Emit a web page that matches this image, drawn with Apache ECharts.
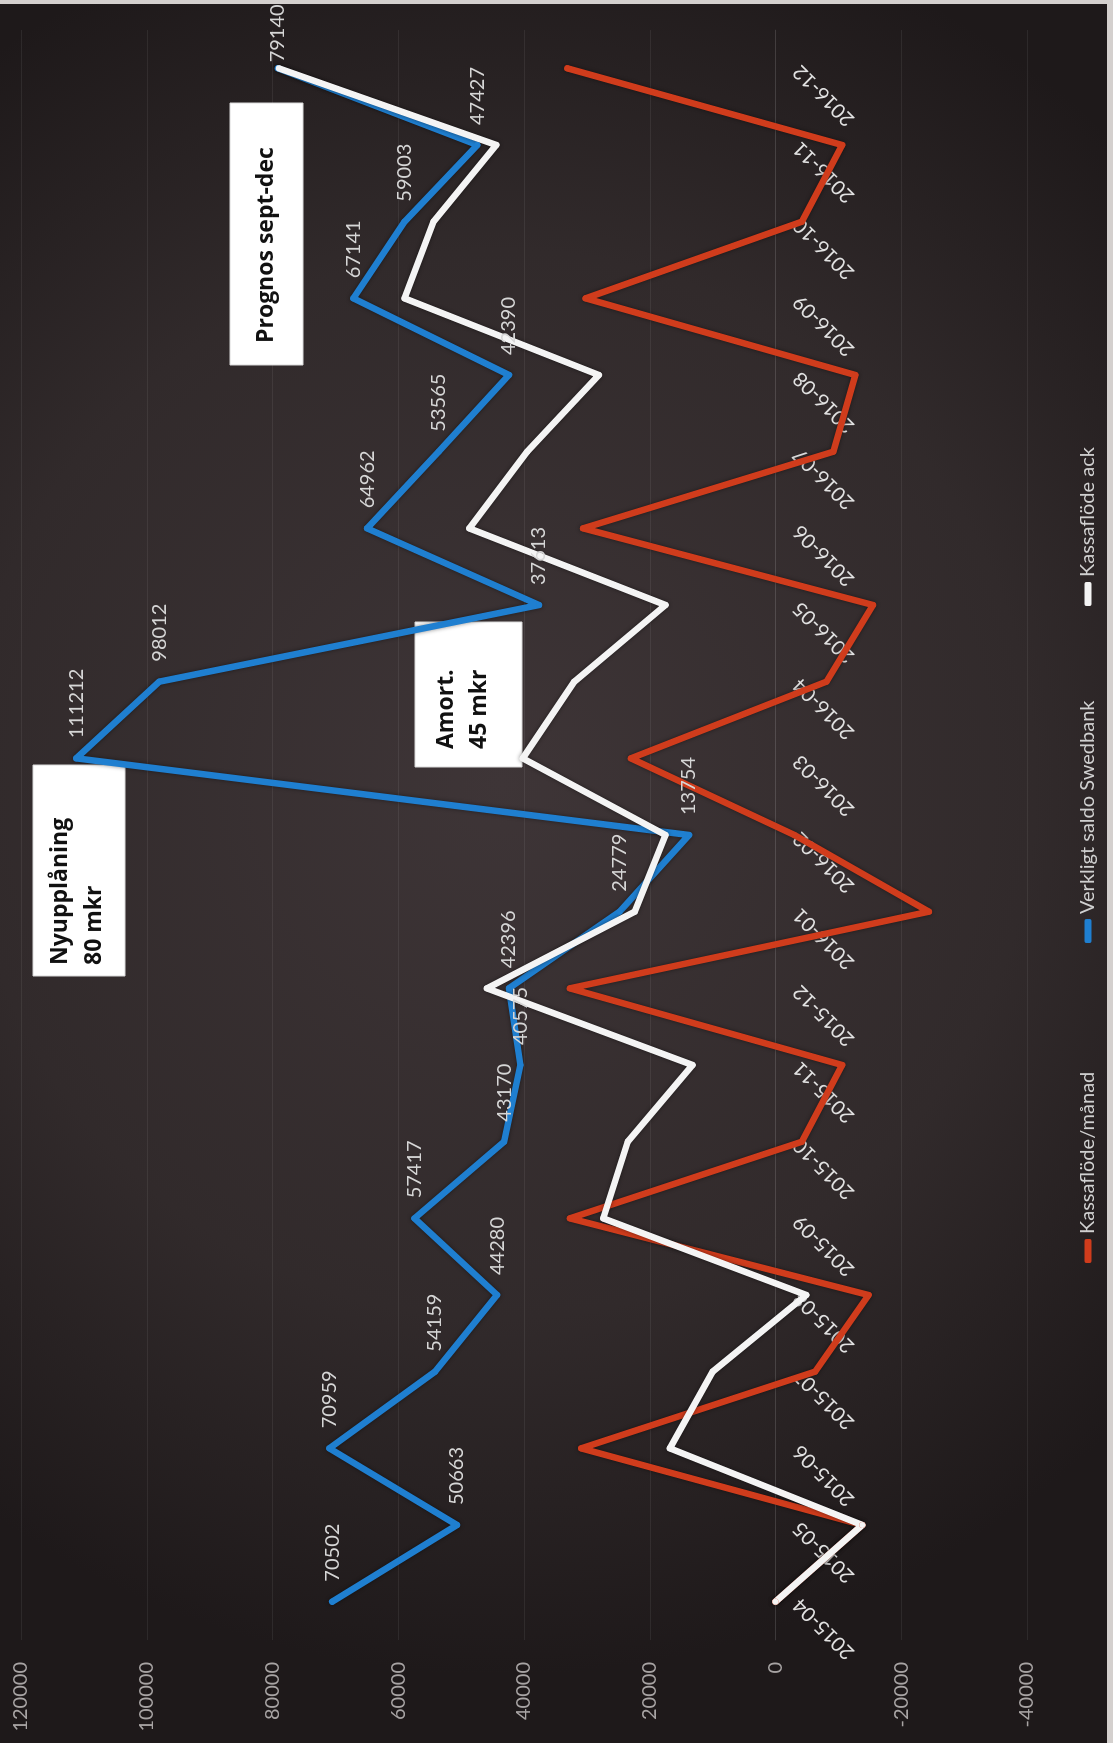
<!DOCTYPE html>
<html>
<head>
<meta charset="utf-8">
<script src="https://cdn.jsdelivr.net/npm/echarts@6/dist/echarts.min.js"></script>
<style>
html, body { margin: 0; padding: 0; overflow: hidden; background: #1c1819; width: 1113px; height: 1743px; }
#chart { position: absolute; left: 0; top: 0; width: 1743px; height: 1113px;
  transform-origin: 0 0; transform: translate(0px, 1743px) rotate(-90deg); }
</style>
</head>
<body>
<div id="chart"></div>
<script>
// ---- data ----
var categories = ['2015-04','2015-05','2015-06','2015-07','2015-08','2015-09','2015-10','2015-11','2015-12',
  '2016-01','2016-02','2016-03','2016-04','2016-05','2016-06','2016-07','2016-08','2016-09','2016-10','2016-11','2016-12'];
var kassaflodeManad = [0, -13800, 30900, -6300, -14800, 32700, -4200, -10600, 32700,
  -24400, -3000, 23000, -8100, -15500, 30600, -9200, -12700, 30200, -4200, -10600, 33100];
var saldoSwedbank = [70502, 50663, 70959, 54159, 44280, 57417, 43170, 40575, 42396,
  24779, 13754, 111212, 98012, 37613, 64962, 53565, 42390, 67141, 59003, 47427, 79140];
var kassaflodeAck = [0, -13800, 16800, 10000, -4900, 27400, 23500, 13200, 45900,
  22400, 17500, 40200, 32000, 17500, 48700, 39500, 28100, 59000, 54400, 44400, 79000];
var seriesNames = ['Kassaflöde/månad', 'Verkligt saldo Swedbank', 'Kassaflöde ack'];
var valueTicks = { min: -40000, max: 120000, interval: 20000 };

var RED = '#d03c1c', BLUE = '#1f7fd0', WHITE = '#f4f4f4';
var FONT = 'Lato';
var GRID = { left: 103, right: 30, top: 21, bottom: 86 };
var CH = 1113;
// place category axis on the zero line of the value axis
var plotH = CH - GRID.top - GRID.bottom;
var zeroFromBottom = plotH * (0 - valueTicks.min) / (valueTicks.max - valueTicks.min);

var chart = echarts.init(document.getElementById('chart'), null, { renderer: 'canvas', width: 1743, height: CH });

function lineSeries(name, data, color, withLabels) {
  return {
    name: name, type: 'line', data: data,
    symbol: 'circle', symbolSize: 6, showSymbol: true, showAllSymbol: true,
    itemStyle: { color: color },
    lineStyle: { color: color, width: 6.5, join: 'round', cap: 'round',
      shadowColor: 'rgba(0,0,0,0.45)', shadowBlur: 4 },
    emphasis: { disabled: true },
    animation: false,
    label: withLabels ? { show: true, position: 'right', distance: 17, color: '#d6d6d6',
      fontFamily: FONT, fontSize: 20 } : { show: false }
  };
}

// last label is kept inside the chart edge (as in the original)
var saldoData = saldoSwedbank.map(function (v, i) {
  return i === saldoSwedbank.length - 1 ? { value: v, label: { distance: 3 } } : v;
});

function legendAt(name, left) {
  return {
    data: [name], left: left, top: 1073, orient: 'horizontal',
    icon: 'roundRect', itemWidth: 24, itemHeight: 7, itemGap: 8,
    textStyle: { color: '#d0d0d0', fontFamily: FONT, fontSize: 20 },
    selectedMode: false
  };
}

function box(x, y, w, h, lines, lineYs, textX) {
  var children = [{ type: 'rect', shape: { x: x, y: y, width: w, height: h },
    style: { fill: '#ffffff', stroke: '#d9d9d9', lineWidth: 1 } }];
  lines.forEach(function (t, i) {
    children.push({ type: 'text', style: { text: t, x: textX, y: lineYs[i],
      fill: '#111111', font: 'bold 23px "Open Sans"', align: 'left', verticalAlign: 'middle' } });
  });
  return { type: 'group', children: children, z: 100 };
}

var option = {
  backgroundColor: { type: 'radial', x: 0.55, y: 0.45, r: 0.8,
    colorStops: [{ offset: 0, color: '#3e3537' }, { offset: 0.6, color: '#312a2b' }, { offset: 1, color: '#1e191a' }] },
  animation: false,
  grid: { left: GRID.left, right: GRID.right, top: GRID.top, bottom: GRID.bottom, containLabel: false },
  legend: [legendAt(seriesNames[0], 475), legendAt(seriesNames[1], 795), legendAt(seriesNames[2], 1132)],
  xAxis: {
    type: 'category', data: categories, boundaryGap: true, position: 'bottom',
    offset: -zeroFromBottom,
    axisLine: { show: true, onZero: false, lineStyle: { color: 'rgba(255,255,255,0.08)', width: 1 } },
    axisTick: { show: false },
    axisLabel: { rotate: 45, margin: 21, color: '#e2e2e2', fontFamily: FONT, fontSize: 20, interval: 0 },
    splitLine: { show: false }
  },
  yAxis: {
    type: 'value', min: valueTicks.min, max: valueTicks.max, interval: valueTicks.interval,
    axisLine: { show: false }, axisTick: { show: false },
    axisLabel: { margin: 22, color: '#a8a4a4', fontFamily: FONT, fontSize: 20,
      formatter: function (v) { return String(v); } },
    splitLine: { show: true, lineStyle: { color: 'rgba(255,255,255,0.07)', width: 1 } }
  },
  series: [
    lineSeries(seriesNames[0], kassaflodeManad, RED, false),
    lineSeries(seriesNames[1], saldoData, BLUE, true),
    lineSeries(seriesNames[2], kassaflodeAck, WHITE, false)
  ],
  graphic: [
    box(767, 33, 211, 92, ['Nyupplåning', '80 mkr'], [60, 94], 778),
    box(976, 415, 145, 107, ['Amort.', '45 mkr'], [446, 479], 994),
    box(1378, 230, 262, 73, ['Prognos sept-dec'], [266], 1400),
    { type: 'rect', shape: { x: 1739, y: 0, width: 4, height: 1113 }, style: { fill: '#d4d0ce' }, z: 200 },
    { type: 'rect', shape: { x: 0, y: 1107, width: 1743, height: 6 }, style: { fill: '#d4d0ce' }, z: 200 }
  ]
};
chart.setOption(option);
</script>
</body>
</html>
